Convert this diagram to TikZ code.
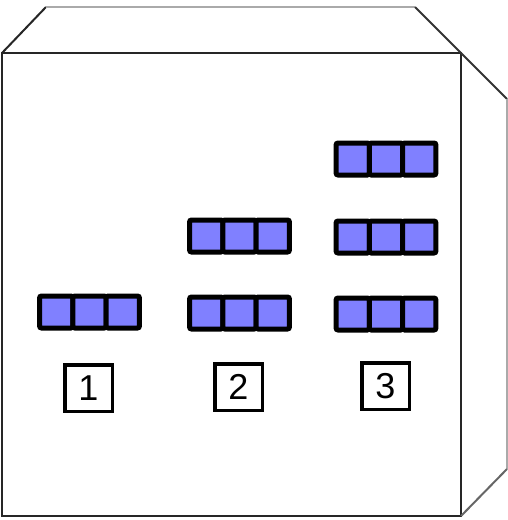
\documentclass[tikz,border=0pt]{standalone}
\usepackage{fontspec}
\setmainfont{Liberation Sans}
\usepackage{xcolor}
\definecolor{cellblue}{RGB}{128,128,255}
\definecolor{edgegray}{RGB}{170,170,170}
\tikzset{
  cell/.style={draw=black,fill=cellblue,line width=5pt,rounded corners=2pt,
    minimum width=33.3pt,minimum height=32pt,inner sep=0pt},
  numbox/.style={draw=black,fill=white,line width=3.5pt,minimum width=47.5pt,
    minimum height=46.5pt,inner sep=0pt,font=\fontsize{36}{36}\selectfont}
}
\begin{document}
\begin{tikzpicture}[x=1pt,y=-1pt]
\useasboundingbox (0,0) rectangle (508,520);
% cube
\draw[line width=2pt,black!85] (2,53) rectangle (461,516);
\draw[line width=2pt,black!85] (2,53)--(46,7);
\draw[line width=2.5pt,edgegray] (46,7)--(415,7);
\draw[line width=2pt,black!80] (415,7)--(461,53)--(507,99);
\draw[line width=1.2pt,edgegray] (507,99)--(507,469);
\draw[line width=2pt,black!60] (507,469)--(461,516);
% bars
\foreach \x/\y/\n in {89.5/312/a,239.5/236/b,239.5/313/c,386/159/d,386/237/e,386/314/f}{
\node[cell] at (\x-33.3,\y) (\n1){};
\node[cell] at (\x,\y) (\n2){};
\node[cell] at (\x+33.3,\y) (\n3){};
}
% numbers
\node[numbox] at (88.5,388) (n1){1};
\node[numbox] at (238.5,387) (n2){2};
\node[numbox] at (385.5,386) (n3){3};
\end{tikzpicture}
\end{document}
